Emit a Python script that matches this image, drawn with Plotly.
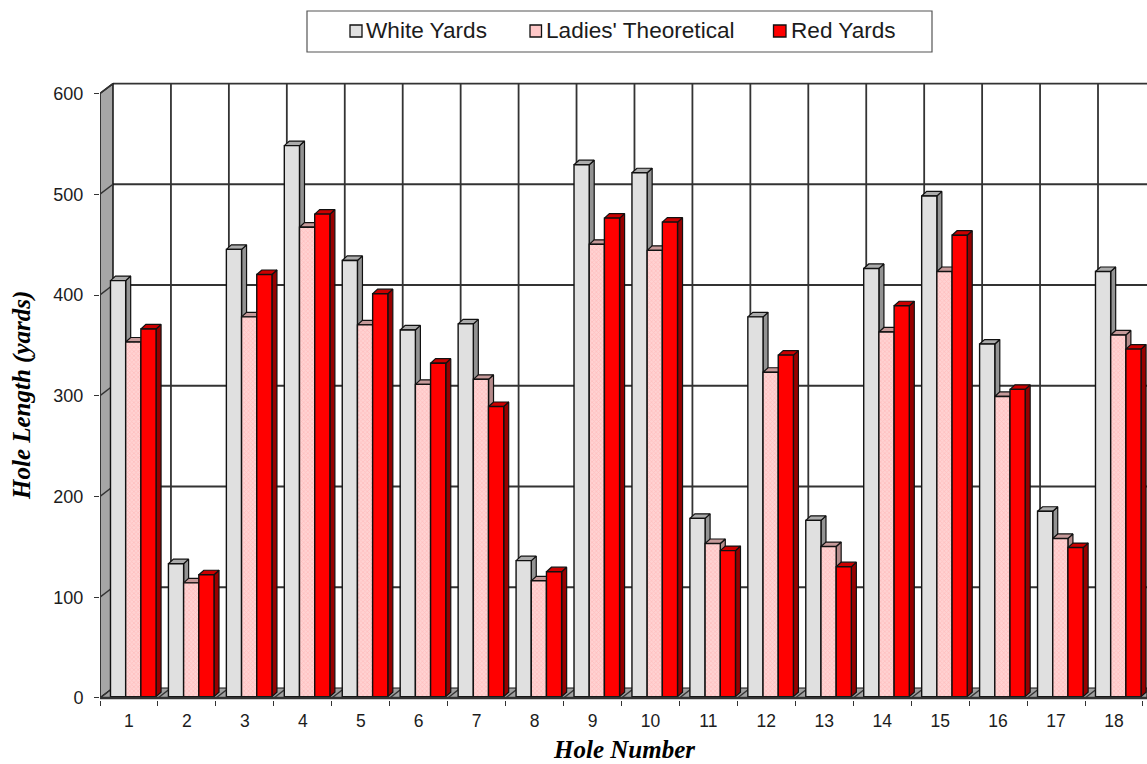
import plotly.graph_objects as go

# Hole yardages per tee
holes = list(range(1, 19))
white_yards = [413, 132, 444, 547, 433, 364, 370, 135, 528, 520, 177, 377, 175, 425, 497, 350, 184, 422]
ladies_theoretical = [352, 113, 377, 466, 369, 310, 315, 115, 449, 443, 152, 322, 149, 362, 422, 298, 157, 359]
red_yards = [365, 121, 419, 479, 400, 331, 288, 124, 475, 471, 145, 339, 129, 388, 458, 305, 148, 345]
series_names = ["White Yards", "Ladies' Theoretical", "Red Yards"]
y_ticks = [0, 100, 200, 300, 400, 500, 600]

# Fake-perspective parameters, in axis units
WALL_DX, WALL_DY = 0.2244, 9.9
BAR_DX, BAR_DY = 0.0863, 4.5
BAR_BASE = 1.3
BAR_W = 0.2622
BAR_LEFT = -0.319
X_MIN, X_MAX = 0.5, 18.57
Y_MIN, Y_MAX = -2.0, 613.4
Y_TOP = 600

PLOT_L, PLOT_R, PLOT_T, PLOT_B = 100, 1147, 80, 700
INK = "#1c1c1c"
GRID = "#333333"

styles = [
    dict(front="#E0E0E0", top="#ABABAB", side="#939393"),
    dict(front="#FFC8C8", top="#C69A9A", side="#B58A8A"),
    dict(front="#FF0000", top="#CC0000", side="#980000"),
]


def polys(shapes):
    xs, ys = [], []
    for shape in shapes:
        for px, py in shape + [shape[0]]:
            xs.append(px)
            ys.append(py)
        xs.append(None)
        ys.append(None)
    return xs, ys


def face(shapes, color, width=1.2):
    xs, ys = polys(shapes)
    return go.Scatter(x=xs, y=ys, mode="lines", fill="toself", fillcolor=color,
                      line=dict(color="#111111", width=width),
                      hoverinfo="skip", showlegend=False, xaxis="x", yaxis="y")


def segments(pairs, color, width):
    xs, ys = [], []
    for (x0, y0), (x1, y1) in pairs:
        xs += [x0, x1, None]
        ys += [y0, y1, None]
    return go.Scatter(x=xs, y=ys, mode="lines", line=dict(color=color, width=width),
                      hoverinfo="skip", showlegend=False, xaxis="x", yaxis="y",
                      cliponaxis=False)


fig = go.Figure()

# Back-wall grid
boundaries = [h - 0.5 for h in holes] + [18.5]
grid_pairs = [((X_MIN + WALL_DX, t + WALL_DY), (X_MAX, t + WALL_DY)) for t in y_ticks[1:]]
grid_pairs += [((b + WALL_DX, WALL_DY), (b + WALL_DX, Y_TOP + WALL_DY)) for b in boundaries[1:-1]]
fig.add_trace(segments(grid_pairs, GRID, 1.8))

# Side wall and floor
fig.add_trace(face([[(X_MIN, 0), (X_MIN + WALL_DX, WALL_DY),
                     (X_MIN + WALL_DX, Y_TOP + WALL_DY), (X_MIN, Y_TOP)]], "#A6A6A6", 1.5))
fig.add_trace(face([[(X_MIN, 0), (X_MIN + WALL_DX, WALL_DY),
                     (X_MAX, WALL_DY), (X_MAX, 0)]], "#A0A0A0", 1.0))
fig.add_trace(segments([((X_MIN, t), (X_MIN + WALL_DX, t + WALL_DY)) for t in y_ticks[1:]], GRID, 1.5))
fig.add_trace(segments([((b, 0), (b + WALL_DX, WALL_DY)) for b in boundaries[:-1]], GRID, 1.5))

# Tops and sides of the columns, ordered back to front within each hole
all_values = [white_yards, ladies_theoretical, red_yards]
for k, values in enumerate(all_values):
    sides, tops = [], []
    for h, v in zip(holes, values):
        left = h + BAR_LEFT + k * BAR_W
        right = left + BAR_W
        high = BAR_BASE + v
        sides.append([(right, BAR_BASE), (right + BAR_DX, BAR_BASE + BAR_DY),
                      (right + BAR_DX, high + BAR_DY), (right, high)])
        tops.append([(left, high), (left + BAR_DX, high + BAR_DY),
                     (right + BAR_DX, high + BAR_DY), (right, high)])
    fig.add_trace(face(sides, styles[k]["side"]))
    fig.add_trace(face(tops, styles[k]["top"]))

# Column fronts sit on an overlaid axis pair so they cover the faces above
for k, values in enumerate(all_values):
    marker = dict(color=styles[k]["front"], line=dict(color="#111111", width=1.4))
    if k == 1:
        marker["pattern"] = dict(shape="x", fgcolor="#FFA8A8", bgcolor="#FFD2D2", size=3, solidity=0.4)
    fig.add_trace(go.Bar(x=holes, y=values, base=[BAR_BASE] * len(holes),
                         offset=BAR_LEFT + k * BAR_W, width=BAR_W,
                         name=series_names[k], marker=marker, showlegend=False,
                         xaxis="x2", yaxis="y2"))


def px_x(px):
    return (px - PLOT_L) / (PLOT_R - PLOT_L)


def px_y(py):
    return (PLOT_B - py) / (PLOT_B - PLOT_T)


# Legend frame, swatches and labels
page_shapes = [dict(type="rect", xref="paper", yref="paper", x0=px_x(307), x1=px_x(932),
                    y0=px_y(52), y1=px_y(11), line=dict(color="#555555", width=1.2),
                    fillcolor="white")]
legend_items = [(350, 362, 366), (530, 541.5, 546), (773.5, 786, 791)]
annotations = []
for k, (sx0, sx1, tx) in enumerate(legend_items):
    page_shapes.append(dict(type="rect", xref="paper", yref="paper", x0=px_x(sx0), x1=px_x(sx1),
                            y0=px_y(37), y1=px_y(25), fillcolor=styles[k]["front"],
                            line=dict(color="#111111", width=1.3)))
    annotations.append(dict(xref="paper", yref="paper", x=px_x(tx), y=px_y(31), text=series_names[k],
                            showarrow=False, xanchor="left", yanchor="middle",
                            font=dict(family="Liberation Sans", size=22.6, color=INK),
                            borderpad=0, borderwidth=0))

# Axis titles
title_font = dict(family="Liberation Serif", size=25, color="#000000", weight="bold", style="italic")
annotations.append(dict(xref="paper", yref="paper", x=px_x(624), y=px_y(749.5), text="Hole Number",
                        showarrow=False, xanchor="center", yanchor="middle", font=title_font))
annotations.append(dict(xref="paper", yref="paper", x=px_x(22), y=px_y(396), text="Hole Length (yards)",
                        showarrow=False, xanchor="center", yanchor="middle", textangle=-90, font=title_font))

fig.update_layout(
    width=1147, height=764,
    margin=dict(l=PLOT_L, r=1147 - PLOT_R, t=PLOT_T, b=764 - PLOT_B),
    paper_bgcolor="white", plot_bgcolor="white",
    barmode="overlay",
    shapes=page_shapes, annotations=annotations,
    showlegend=False,
    font=dict(family="Liberation Sans", color=INK),
    xaxis=dict(range=[X_MIN, X_MAX], tickmode="array", tickvals=boundaries, showticklabels=False,
               ticks="outside", ticklen=5, tickwidth=1.3, tickcolor="#333333",
               showgrid=False, zeroline=False, showline=False, anchor="y"),
    yaxis=dict(range=[Y_MIN, Y_MAX], tickmode="array", tickvals=y_ticks,
               ticks="outside", ticklen=5, tickwidth=1.3, tickcolor="#333333",
               ticklabelstandoff=7, tickfont=dict(size=18, color=INK),
               showgrid=False, zeroline=False, showline=False, anchor="x"),
    xaxis2=dict(range=[X_MIN, X_MAX], overlaying="x", anchor="y2", side="bottom", tickmode="array",
                tickvals=holes, ticktext=[str(h) for h in holes],
                ticks="outside", ticklen=5, tickcolor="rgba(0,0,0,0)",
                tickfont=dict(size=17.5, color=INK),
                showgrid=False, zeroline=False, showline=False),
    yaxis2=dict(range=[Y_MIN, Y_MAX], overlaying="y", anchor="x2", side="left", showticklabels=False,
                ticks="", showgrid=False, zeroline=False, showline=False),
)

# Thick front edge of the floor, above the column fronts
fig.add_shape(type="line", xref="x", yref="y", x0=X_MIN, x1=X_MAX, y0=0, y1=0,
              line=dict(color="#333333", width=2.6))

fig.write_html("out.html")
